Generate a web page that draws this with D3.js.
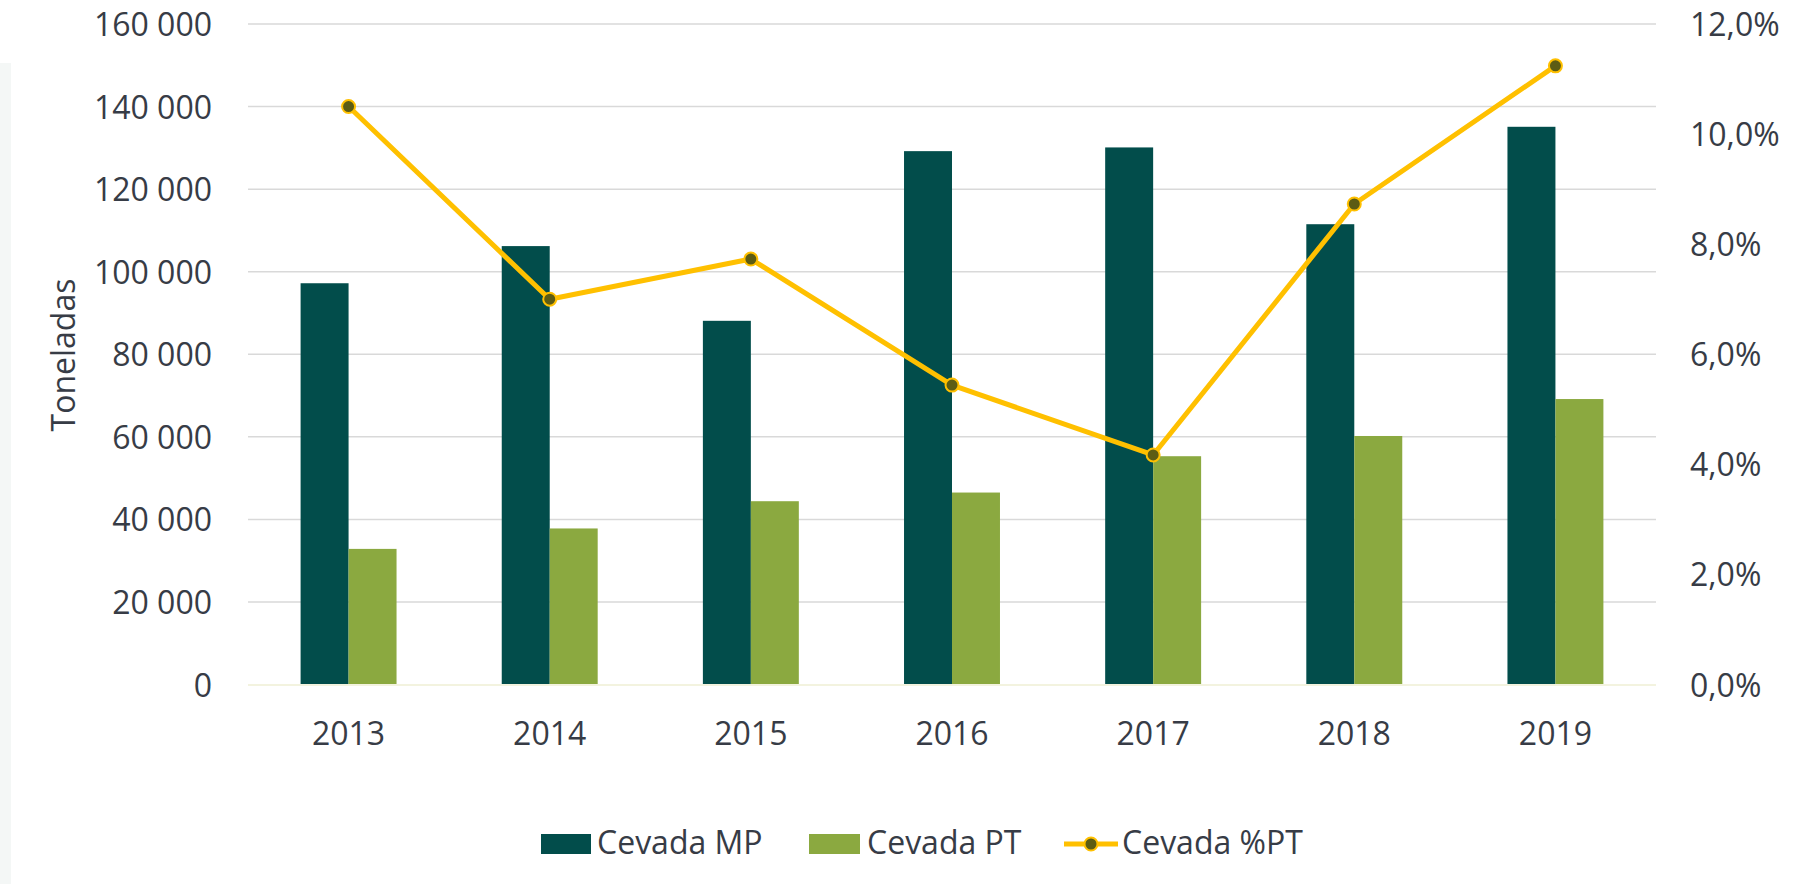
<!DOCTYPE html>
<html>
<head>
<meta charset="utf-8">
<script src="https://cdn.jsdelivr.net/npm/d3@7"></script>
<style>
  html, body { margin: 0; padding: 0; background: #ffffff; }
  svg { display: block; }
  text { font-family: "Open Sans", sans-serif; fill: #373c46; }
</style>
</head>
<body>
<svg id="chart" width="1794" height="884"></svg>
<script>
const years = ["2013", "2014", "2015", "2016", "2017", "2018", "2019"];
const cevadaMP = [97200, 106200, 88100, 129200, 130100, 111500, 135100];
const cevadaPT = [32850, 37800, 44400, 46500, 55300, 60200, 69150];
const cevadaPctPT = [10.5, 7.0, 7.73, 5.44, 4.17, 8.73, 11.24];
const leftTicks = [0, 20000, 40000, 60000, 80000, 100000, 120000, 140000, 160000];
const rightTicks = [0, 2, 4, 6, 8, 10, 12];
const seriesNames = ["Cevada MP", "Cevada PT", "Cevada %PT"];

const colMP = "#024d4b", colPT = "#8ba940", colLine = "#ffc000", colMarker = "#5c5c14";
const textCol = "#373c46";

const svg = d3.select("#chart");
const plot = { left: 248, right: 1656, top: 24, bottom: 684.5 };

// faint panel at left edge
svg.append("rect").attr("x", 0).attr("y", 63).attr("width", 11).attr("height", 821).attr("fill", "#f4f7f6");

const x = d3.scaleBand().domain(years).range([plot.left, plot.right])
  .paddingInner(0.523).paddingOuter(0.2615);
const xSub = d3.scaleBand().domain(["MP", "PT"]).range([0, x.bandwidth()]);
const y = d3.scaleLinear().domain([0, 160000]).range([plot.bottom, plot.top]);
const y2 = d3.scaleLinear().domain([0, 12]).range([plot.bottom, plot.top]);

// gridlines
svg.append("g").selectAll("line").data(leftTicks.filter(d => d > 0)).join("line")
  .attr("x1", plot.left).attr("x2", plot.right)
  .attr("y1", d => y(d)).attr("y2", d => y(d))
  .attr("stroke", "#d9d9d9").attr("stroke-width", 1.5);

// left axis
const fmt = d => d3.format(",")(d).replace(/,/g, " ");
const leftAxis = d3.axisLeft(y).tickValues(leftTicks).tickFormat(fmt).tickSize(0).tickPadding(0);
const gl = svg.append("g").attr("transform", `translate(212,0)`).call(leftAxis);
gl.select(".domain").remove();
gl.selectAll("text").attr("font-size", 32).attr("font-family", "Open Sans").attr("fill", textCol).attr("dy", "0.36em");

// right axis
const rightAxis = d3.axisRight(y2).tickValues(rightTicks)
  .tickFormat(d => d3.format(".1f")(d).replace(".", ",") + "%").tickSize(0).tickPadding(0);
const gr = svg.append("g").attr("transform", `translate(1690,0)`).call(rightAxis);
gr.select(".domain").remove();
gr.selectAll("text").attr("font-size", 32).attr("font-family", "Open Sans").attr("fill", textCol).attr("dy", "0.36em");

// bars
const gb = svg.append("g");
gb.selectAll("rect.mp").data(years).join("rect").attr("class", "mp")
  .attr("x", d => x(d) + xSub("MP")).attr("width", xSub.bandwidth())
  .attr("y", (d, i) => y(cevadaMP[i])).attr("height", (d, i) => y(0) - y(cevadaMP[i]))
  .attr("fill", colMP);
gb.selectAll("rect.pt").data(years).join("rect").attr("class", "pt")
  .attr("x", d => x(d) + xSub("PT")).attr("width", xSub.bandwidth())
  .attr("y", (d, i) => y(cevadaPT[i])).attr("height", (d, i) => y(0) - y(cevadaPT[i]))
  .attr("fill", colPT);

// baseline
svg.append("line").attr("x1", plot.left).attr("x2", plot.right)
  .attr("y1", y(0) + 0.5).attr("y2", y(0) + 0.5).attr("stroke", "#f3f3df").attr("stroke-width", 2);

// x axis labels
const bottomAxis = d3.axisBottom(x).tickSize(0).tickPadding(0);
const gx = svg.append("g").attr("transform", `translate(0,745)`).call(bottomAxis);
gx.select(".domain").remove();
gx.selectAll("text").attr("font-size", 32).attr("font-family", "Open Sans").attr("fill", textCol).attr("dy", 0);

// line series
const cx = d => x(d) + x.bandwidth() / 2;
const line = d3.line().x((d, i) => cx(years[i])).y(d => y2(d));
svg.append("path").datum(cevadaPctPT).attr("d", line)
  .attr("fill", "none").attr("stroke", colLine).attr("stroke-width", 5).attr("stroke-linejoin", "round");
svg.append("g").selectAll("circle").data(cevadaPctPT).join("circle")
  .attr("cx", (d, i) => cx(years[i])).attr("cy", d => y2(d)).attr("r", 6.5)
  .attr("fill", colMarker).attr("stroke", colLine).attr("stroke-width", 2);

// axis title
svg.append("text").attr("transform", "translate(75,355) rotate(-90)")
  .attr("text-anchor", "middle").attr("font-size", 32).text("Toneladas");

// legend
const lg = svg.append("g");
lg.append("rect").attr("x", 541).attr("y", 834).attr("width", 50).attr("height", 20).attr("fill", colMP);
lg.append("text").attr("x", 597).attr("y", 854).attr("font-size", 32).text(seriesNames[0]);
lg.append("rect").attr("x", 809).attr("y", 834).attr("width", 51).attr("height", 20).attr("fill", colPT);
lg.append("text").attr("x", 867).attr("y", 854).attr("font-size", 32).text(seriesNames[1]);
lg.append("line").attr("x1", 1064).attr("x2", 1118).attr("y1", 844).attr("y2", 844)
  .attr("stroke", colLine).attr("stroke-width", 5);
lg.append("circle").attr("cx", 1091).attr("cy", 844).attr("r", 6.5)
  .attr("fill", colMarker).attr("stroke", colLine).attr("stroke-width", 2);
lg.append("text").attr("x", 1122).attr("y", 854).attr("font-size", 32).text(seriesNames[2]);
</script>
</body>
</html>
